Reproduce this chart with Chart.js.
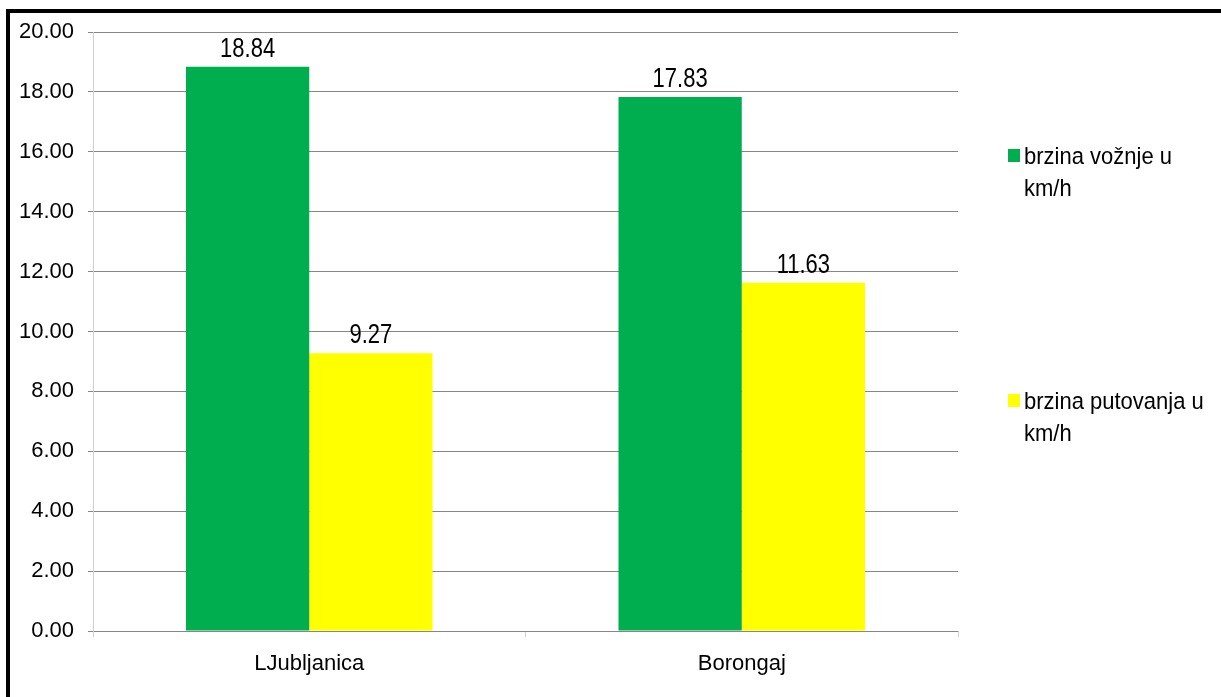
<!DOCTYPE html>
<html>
<head>
<meta charset="utf-8">
<script src="https://cdn.jsdelivr.net/npm/chart.js@4.4.1/dist/chart.umd.min.js"></script>
<style>
  html, body { margin: 0; padding: 0; background: #fff; overflow: hidden; }
  #wrap { position: relative; width: 1221px; height: 697px; }
  #frame { position: absolute; left: 6px; top: 9px; right: 0; bottom: 0; border-left: 4px solid #000; border-top: 4px solid #000; pointer-events: none; }
</style>
</head>
<body>
<div id="wrap"><canvas id="c" width="1221" height="697"></canvas><div id="frame"></div></div>
<script>
const categories = ['LJubljanica', 'Borongaj'];
const seriesNames = [['brzina vožnje u', 'km/h'], ['brzina putovanja u', 'km/h']];
const voznja = [18.84, 17.83];
const putovanje = [9.27, 11.63];
const seriesColors = ['#00AD4F', '#FFFF00'];
const yMin = 0, yMax = 20, yStep = 2;

const FONT = "'Liberation Sans', Arial, sans-serif";

// tekst malo izduzen po visini, kao na slici
const tallText = (ctx, text, x, y, sy) => {
    ctx.save();
    ctx.translate(x, y);
    ctx.scale(1, sy);
    ctx.fillText(text, 0, 0);
    ctx.restore();
};

// vrijednosti iznad stupaca
const valueLabels = {
    id: 'valueLabels',
    afterDatasetsDraw: (chart) => {
        const ctx = chart.ctx;
        ctx.save();
        ctx.font = `22px ${FONT}`;
        ctx.fillStyle = '#000';
        ctx.textAlign = 'center';
        ctx.textBaseline = 'alphabetic';
        chart.data.datasets.forEach((ds, i) => {
            chart.getDatasetMeta(i).data.forEach((bar, j) => {
                tallText(ctx, ds.data[j].toFixed(2), bar.x, bar.y - 10, 1.22);
            });
        });
        ctx.restore();
    }
};

// legenda desno, tekst u dva reda
const sideLegend = {
    id: 'sideLegend',
    afterDraw: (chart) => {
        const ctx = chart.ctx;
        const tops = [156, 401];
        ctx.save();
        ctx.font = `22px ${FONT}`;
        ctx.textAlign = 'left';
        ctx.textBaseline = 'middle';
        chart.data.datasets.forEach((ds, i) => {
            const y = tops[i];
            ctx.fillStyle = ds.backgroundColor;
            ctx.fillRect(1008, y - 7, 12, 13);
            ctx.fillStyle = '#000';
            ds.label.forEach((line, k) => tallText(ctx, line, 1024, y + 1 + k * 32, 1.12));
        });
        ctx.restore();
    }
};

new Chart(document.getElementById('c').getContext('2d'), {
    type: 'bar',
    data: {
        labels: categories,
        datasets: [
            { label: seriesNames[0], data: voznja, backgroundColor: seriesColors[0] },
            { label: seriesNames[1], data: putovanje, backgroundColor: seriesColors[1] }
        ]
    },
    options: {
        responsive: false,
        animation: false,
        devicePixelRatio: 1,
        layout: { padding: { left: 0, top: 32, right: 263, bottom: 0 } },
        datasets: { bar: { categoryPercentage: 0.57, barPercentage: 1, borderWidth: 0 } },
        plugins: { legend: { display: false }, tooltip: { enabled: false } },
        scales: {
            x: {
                afterFit: (s) => { s.height = 66; },
                grid: { drawOnChartArea: false, color: '#d0d0d0', tickLength: 6 },
                border: { display: false },
                ticks: { color: '#000', font: { family: FONT, size: 22 }, padding: 14 }
            },
            y: {
                min: yMin, max: yMax,
                afterFit: (s) => { s.width = 93; },
                grid: { color: '#868686', tickLength: 5 },
                border: { display: true, color: '#d0d0d0' },
                ticks: {
                    stepSize: yStep,
                    color: '#000',
                    font: { family: FONT, size: 22 },
                    padding: 14,
                    callback: (v) => v.toFixed(2)
                }
            }
        }
    },
    plugins: [valueLabels, sideLegend]
});
</script>
</body>
</html>
